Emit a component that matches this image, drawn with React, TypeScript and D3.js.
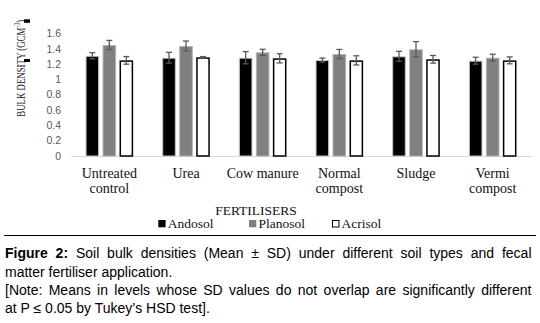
import React, { useLayoutEffect, useRef } from "react";
import * as d3 from "d3";

const categories = ["Untreated control", "Urea", "Cow manure", "Normal compost", "Sludge", "Vermi compost"];
const categoryLines = [["Untreated", "control"], ["Urea"], ["Cow manure"], ["Normal", "compost"], ["Sludge"], ["Vermi", "compost"]];
const series = ["Andosol", "Planosol", "Acrisol"];
const andosolMean = [1.31, 1.285, 1.285, 1.255, 1.303, 1.246];
const andosolSD = [0.04, 0.07, 0.08, 0.025, 0.065, 0.045];
const planosolMean = [1.451, 1.438, 1.355, 1.333, 1.395, 1.285];
const planosolSD = [0.06, 0.065, 0.04, 0.06, 0.1, 0.045];
const acrisolMean = [1.25, 1.29, 1.277, 1.25, 1.264, 1.25];
const acrisolSD = [0.05, 0.01, 0.06, 0.06, 0.05, 0.045];
const yTicks = [0, 0.2, 0.4, 0.6, 0.8, 1, 1.2, 1.4, 1.6];

const means = [andosolMean, planosolMean, acrisolMean];
const sds = [andosolSD, planosolSD, acrisolSD];
const fills = ["#000000", "#808080", "#ffffff"];
const strokes = ["#c4c4c4", "#b3b3b3", "#000000"];
const strokeW = [1, 1, 1.5];

export default function App() {
  const j1 = useRef<SVGTextElement>(null);
  const j3 = useRef<SVGTextElement>(null);
  const yt = useRef<SVGTextElement>(null);
  const ytg = useRef<SVGGElement>(null);

  const y = d3.scaleLinear().domain([0, 1.6]).range([156, 33.6]);
  const x0 = d3.scaleBand<string>().domain(categories).range([71, 531]).padding(0);
  const x1 = d3.scaleBand<string>().domain(series).range([0, 47.6]).paddingInner(0.2).paddingOuter(0);
  const off = (x0.bandwidth() - 47.6) / 2;
  const fmt = (d: number) => String(+d.toFixed(1));

  useLayoutEffect(() => {
    const target = 531.5 - 5;
    [j1.current, j3.current].forEach((el) => {
      if (!el) return;
      el.setAttribute("word-spacing", "0");
      const len = el.getComputedTextLength();
      const spaces = (el.textContent || "").split(" ").length - 1;
      if (spaces > 0) el.setAttribute("word-spacing", String((target - len) / spaces));
    });
    if (yt.current && ytg.current) {
      const bb = yt.current.getBBox();
      const s = 97 / bb.width;
      ytg.current.setAttribute("transform", `translate(25,68.3) rotate(-90) scale(${s},1)`);
    }
  }, []);

  const serif = "'Liberation Serif', 'Times New Roman', serif";
  const sans = "'Liberation Sans', Arial, sans-serif";

  return (
    <svg width={540} height={323} style={{ position: "absolute", left: 0, top: 0, background: "#fff" }}>
      <rect width={540} height={323} fill="#fff" />
      {/* y axis title */}
      <g ref={ytg} transform="translate(25,68.3) rotate(-90) scale(0.65,1)">
        <text ref={yt} x={0} y={0} textAnchor="middle" fontFamily={serif} fontSize={13.5} fill="#14142a">
          BULK DENSITY (GCM<tspan fontSize={9} dy={-5}>-3</tspan><tspan dy={5}>)</tspan>
        </text>
      </g>
      <rect x={24} y={19.3} width={6} height={3.5} fill="#000" />
      <rect x={24} y={59} width={6} height={3} fill="#000" />
      {/* y tick labels */}
      {yTicks.map((t) => (
        <text key={t} x={61} y={y(t)} dy="0.35em" textAnchor="end" fontFamily={sans} fontSize={10.5} fill="#595959">
          {fmt(t)}
        </text>
      ))}
      {/* baseline */}
      <line x1={71} x2={531} y1={156.5} y2={156.5} stroke="#d9d9d9" strokeWidth={1} />
      {/* bars */}
      {categories.map((c, ci) => (
        <g key={c} transform={`translate(${(x0(c) as number) + off},0)`}>
          {series.map((s, si) => {
            const v = means[si][ci];
            const sd = sds[si][ci];
            const bx = x1(s) as number;
            const bw = x1.bandwidth();
            const cx = bx + bw / 2;
            const inset = si === 2 ? 0.75 : 0.5;
            return (
              <g key={s}>
                <rect
                  x={bx + inset}
                  y={y(v) + inset}
                  width={bw - 2 * inset}
                  height={y(0) - y(v) - inset}
                  fill={fills[si]}
                  stroke={strokes[si]}
                  strokeWidth={strokeW[si]}
                />
                <line x1={cx} x2={cx} y1={y(v + sd)} y2={y(v - sd)} stroke="#595959" strokeWidth={1.3} />
                <line x1={cx - 3} x2={cx + 3} y1={y(v + sd)} y2={y(v + sd)} stroke="#595959" strokeWidth={1.3} />
                <line x1={cx - 3} x2={cx + 3} y1={y(v - sd)} y2={y(v - sd)} stroke="#595959" strokeWidth={1.3} />
              </g>
            );
          })}
        </g>
      ))}
      {/* category labels */}
      {categories.map((c, ci) => (
        <text key={c} textAnchor="middle" fontFamily={serif} fontSize={14} fill="#111">
          {categoryLines[ci].map((ln, li) => (
            <tspan key={li} x={(x0(c) as number) + x0.bandwidth() / 2} y={177.5 + li * 15.5}>
              {ln}
            </tspan>
          ))}
        </text>
      ))}
      {/* axis title */}
      <text x={256} y={214.5} textAnchor="middle" fontFamily={serif} fontSize={13.5} fill="#111">
        FERTILISERS
      </text>
      {/* legend */}
      {series.map((s, si) => {
        const lx = [158.3, 249, 332][si];
        return (
          <g key={s}>
            <rect
              x={lx + (si === 2 ? 0.5 : 0)}
              y={220 + (si === 2 ? 0.5 : 0)}
              width={si === 2 ? 6.5 : 7.3}
              height={si === 2 ? 6.5 : 7.3}
              fill={fills[si]}
              stroke={si === 2 ? "#000" : "none"}
              strokeWidth={1}
            />
            <text x={lx + 9.5} y={228} fontFamily={serif} fontSize={13.5} fill="#111">
              {s}
            </text>
          </g>
        );
      })}
      {/* rule */}
      <line x1={4} x2={536} y1={235.5} y2={235.5} stroke="#000" strokeWidth={1} />
      {/* caption */}
      <text ref={j1} x={5} y={258.3} fontFamily={sans} fontSize={14} fill="#000">
        <tspan fontWeight="bold">Figure 2:</tspan> Soil bulk densities (Mean ± SD) under different soil types and fecal
      </text>
      <text x={5} y={276.6} fontFamily={sans} fontSize={14} fill="#000">
        matter fertiliser application.
      </text>
      <text ref={j3} x={5} y={294.6} fontFamily={sans} fontSize={14} fill="#000">
        [Note: Means in levels whose SD values do not overlap are significantly different
      </text>
      <text x={5} y={312.7} fontFamily={sans} fontSize={14} fill="#000">
        at P ≤ 0.05 by Tukey’s HSD test].
      </text>
    </svg>
  );
}
